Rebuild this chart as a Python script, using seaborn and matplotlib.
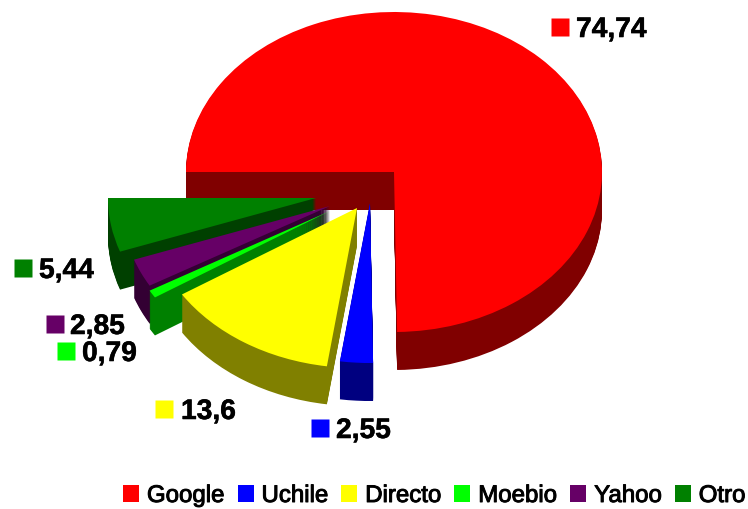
import matplotlib
matplotlib.use("Agg")
import matplotlib.pyplot as plt
import matplotlib.patheffects as pe
import seaborn as sns

# datos
sources = ["Google", "Uchile", "Directo", "Moebio", "Yahoo", "Otro"]
shares = [74.74, 2.55, 13.6, 0.79, 2.85, 5.44]
top_colors = ["#ff0000", "#0000ff", "#ffff00", "#00ff00", "#660066", "#008000"]
wall_colors = ["#800000", "#000080", "#808000", "#008000", "#330033", "#004000"]

# layout en pixeles de la imagen
center_px = (394, 173)
rx, ry = 208, 160
depth_px = 38
slice_offsets_px = [(0, 0), (-24, 31), (-37, 36), (-64, 39), (-64, 34), (-78, 26)]
draw_rank = [0, 5, 4, 3, 2, 1]
key_positions_px = [(560, 28), (320, 429), (163.5, 410), (65.5, 352), (54.5, 325), (22.5, 269)]
label_x_px = [576, 336, 181, 82, 70, 39]

sns.set_theme(style="white")
plt.rcParams["font.family"] = ["Liberation Sans", "DejaVu Sans"]

W, H = 748, 510
fig = plt.figure(figsize=(W / 100, H / 100), dpi=100)
ax = fig.add_axes([0, 0, 1, 1])


def to_data(x, y):
    return (x - center_px[0]) / rx, (center_px[1] - y) / ry


# pared lateral: pies apilados hacia abajo, luego la cara superior
for layer in range(depth_px, -1, -1):
    colors = top_colors if layer == 0 else wall_colors
    wedges, _ = ax.pie(shares, colors=colors, startangle=180, counterclock=False,
                       wedgeprops={"linewidth": 0})
    for i, w in enumerate(wedges):
        off_x, off_y = slice_offsets_px[i]
        w.set_center(((off_x) / rx, -(off_y + layer) / ry))
        w.set_zorder(2 + draw_rank[i] + (0.5 if layer == 0 else 0.5 * (1 - layer / (depth_px + 1))))

ax.set_aspect("auto")
ax.set_xlim(to_data(0, 0)[0], to_data(W, 0)[0])
ax.set_ylim(to_data(0, H)[1], to_data(0, 0)[1])
ax.axis("off")

# etiquetas de valor con su cuadrado
for i, share in enumerate(shares):
    kx, ky = key_positions_px[i]
    dx, dy = to_data(kx, ky)
    ax.plot([dx], [dy], marker="s", ms=13.6, mfc=top_colors[i], mec="none", ls="none", zorder=10)
    tx, ty = to_data(label_x_px[i], ky)
    txt = ax.text(tx, ty, str(share).replace(".", ","), fontsize=20.3, fontweight="bold",
                  color="black", ha="left", va="center_baseline", zorder=10)
    txt.set_path_effects([pe.withStroke(linewidth=0.4, foreground="black")])

leg = ax.legend(wedges, sources, ncol=6, loc="lower left",
                bbox_to_anchor=(123 / W, 1 - 508 / H), bbox_transform=fig.transFigure,
                frameon=False, fontsize=17.3, borderpad=0, borderaxespad=0,
                handlelength=0.667, handleheight=0.667, handletextpad=0.33,
                columnspacing=0.54)
for t in leg.get_texts():
    t.set_color("black")
    t.set_path_effects([pe.withStroke(linewidth=0.7, foreground="black")])

fig.savefig("out.png", dpi=100)
